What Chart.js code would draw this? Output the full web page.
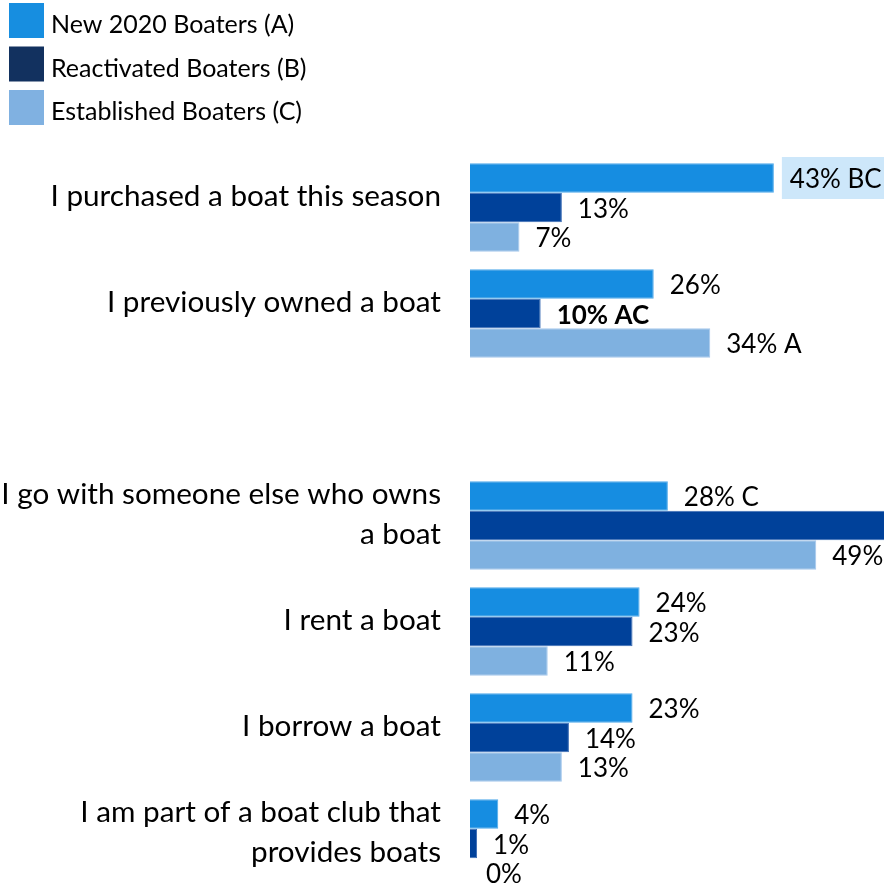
<!DOCTYPE html>
<html>
<head>
<meta charset="utf-8">
<script src="https://cdn.jsdelivr.net/npm/chart.js@4/dist/chart.umd.min.js"></script>
<style>
  html, body { margin: 0; padding: 0; background: #ffffff; overflow: hidden; width: 884px; height: 886px; }
  #wrap { position: absolute; left: 0; top: 0; width: 1000px; height: 900px; }
</style>
</head>
<body>
<div id="wrap"><canvas id="c" width="1000" height="900"></canvas></div>
<script>
// ---- data ----
const categories = [
  ["I purchased a boat this season"],
  ["I previously owned a boat"],
  [""],
  ["I go with someone else who owns", "a boat"],
  ["I rent a boat"],
  ["I borrow a boat"],
  ["I am part of a boat club that", "provides boats"]
];
const seriesNames = ["New 2020 Boaters (A)", "Reactivated Boaters (B)", "Established Boaters (C)"];
const newBoaters   = [43, 26, null, 28, 24, 23, 4];
const reactivated  = [13, 10, null, 60, 23, 14, 1];
const established  = [7, 34, null, 49, 11, 13, 0];
const sigNew   = ["BC", "", "", "C", "", "", ""];
const sigReact = ["", "AC", "", "", "", "", ""];
const sigEst   = ["", "A", "", "", "", "", ""];

// ---- styles ----
const FONT = "Lato, 'Open Sans', sans-serif";
const barColors = ["#168DE1", "#00419A", "#7FB1E0"];
const barEdges = ["#4FA9EA", "#3A6CB4", "#A6C9EC"];
const legendColors = ["#178EE0", "#12315F", "#80B1E1"];
const highlightBox = { dataset: 0, index: 0, color: "#CDE7FA" };
const boldLabel = { dataset: 1, index: 1 };

const valueLabels = {
  id: "valueLabels",
  afterDatasetsDraw(chart) {
    const ctx = chart.ctx;
    const sigs = [sigNew, sigReact, sigEst];
    ctx.save();
    chart.data.datasets.forEach((ds, di) => {
      const meta = chart.getDatasetMeta(di);
      meta.data.forEach((el, i) => {
        const v = ds.data[i];
        if (v === null || v === undefined) return;
        const txt = v + "%" + (sigs[di][i] ? " " + sigs[di][i] : "");
        const bold = boldLabel.dataset === di && boldLabel.index === i;
        ctx.font = (bold ? "bold " : "") + "26px " + FONT;
        const x = el.x + 16;
        const y = el.y;
        if (highlightBox.dataset === di && highlightBox.index === i) {
          const w = ctx.measureText(txt).width;
          ctx.fillStyle = highlightBox.color;
          ctx.fillRect(x - 8, y - 21, w + 16, 42);
        }
        ctx.fillStyle = "#000000";
        ctx.textAlign = "left";
        ctx.textBaseline = "middle";
        ctx.fillText(txt, x, y + 2);
      });
    });
    ctx.restore();
  }
};

const topLegend = {
  id: "topLegend",
  afterDraw(chart) {
    const ctx = chart.ctx;
    ctx.save();
    chart.data.datasets.forEach((ds, di) => {
      const top = 3 + di * 43.5;
      ctx.fillStyle = legendColors[di];
      ctx.fillRect(9, top, 35, 35);
      ctx.fillStyle = "#000000";
      ctx.font = "25px " + FONT;
      ctx.textAlign = "left";
      ctx.textBaseline = "alphabetic";
      ctx.fillText(ds.label, 51, top + 30);
    });
    ctx.restore();
  }
};

new Chart(document.getElementById("c"), {
  type: "bar",
  data: {
    labels: categories,
    datasets: [
      { label: seriesNames[0], data: newBoaters, backgroundColor: barColors[0], borderColor: barEdges[0] },
      { label: seriesNames[1], data: reactivated, backgroundColor: barColors[1], borderColor: barEdges[1] },
      { label: seriesNames[2], data: established, backgroundColor: barColors[2], borderColor: barEdges[2] }
    ]
  },
  options: {
    indexAxis: "y",
    responsive: false,
    animation: false,
    devicePixelRatio: 1,
    layout: { padding: { top: 154.5, bottom: 3.5, left: 0, right: 0 } },
    datasets: { bar: { categoryPercentage: 0.835, barPercentage: 1.0, borderWidth: 1, borderSkipped: "left" } },
    plugins: { legend: { display: false }, tooltip: { enabled: false } },
    scales: {
      x: { display: false, min: 0, max: 75 },
      y: {
        grid: { display: false, drawTicks: false },
        border: { display: false },
        ticks: {
          color: "#000000",
          font: { family: FONT, size: 29.7, lineHeight: 1.35 },
          padding: 29,
          labelOffset: -11,
          autoSkip: false
        },
        afterFit(scale) {
          scale.width = 470;
          scale.paddingTop = 0;
          scale.paddingBottom = 0;
        }
      }
    }
  },
  plugins: [valueLabels, topLegend]
});
</script>
</body>
</html>
